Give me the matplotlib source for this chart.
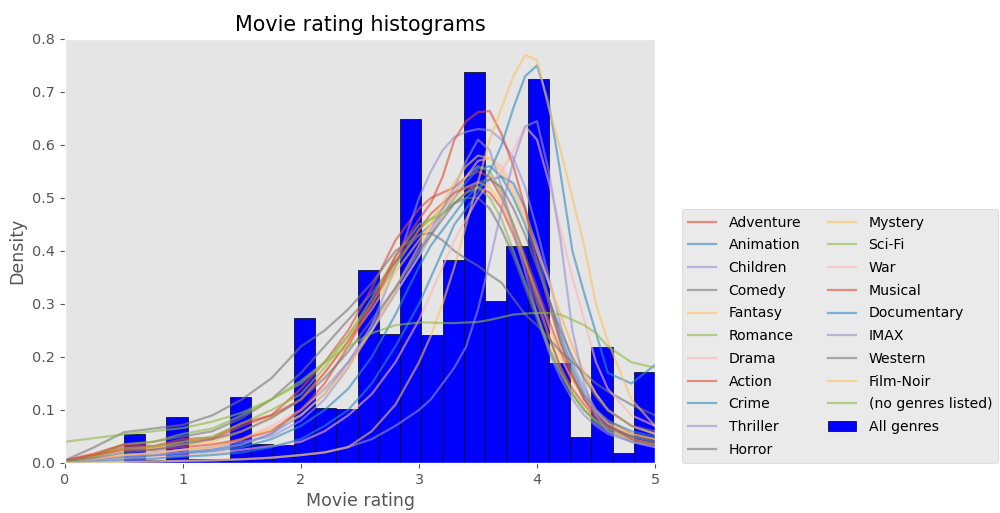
import numpy as np
import matplotlib
matplotlib.use("Agg")
import matplotlib.pyplot as plt

# ---- data ----
bin_edges = np.linspace(0.5, 5.0, 26)
all_genres_density = [0.055, 0.006, 0.087, 0.008, 0.008, 0.125, 0.036, 0.034, 0.273, 0.104,
                      0.102, 0.364, 0.243, 0.649, 0.241, 0.383, 0.738, 0.305, 0.410, 0.725,
                      0.189, 0.049, 0.219, 0.019, 0.172]

kde_x = [0.0, 0.25, 0.5, 0.75, 1.0, 1.25, 1.5, 1.75, 2.0, 2.2, 2.4, 2.6, 2.8, 3.0, 3.1, 3.2,
         3.3, 3.4, 3.5, 3.6, 3.7, 3.8, 3.9, 4.0, 4.1, 4.2, 4.3, 4.4, 4.5, 4.6, 4.8, 5.0]

adventure = [0.004,0.015,0.03,0.03,0.04,0.045,0.07,0.09,0.14,0.19,0.25,0.33,0.42,0.48,0.50,0.51,0.52,0.54,0.55,0.54,0.50,0.45,0.39,0.33,0.27,0.21,0.16,0.125,0.10,0.08,0.055,0.045]
animation = [0.002,0.006,0.012,0.015,0.02,0.025,0.035,0.055,0.10,0.14,0.19,0.25,0.32,0.39,0.43,0.47,0.50,0.53,0.555,0.56,0.54,0.50,0.45,0.38,0.31,0.24,0.18,0.13,0.10,0.08,0.06,0.05]
children = [0.002,0.008,0.015,0.02,0.025,0.03,0.04,0.05,0.08,0.12,0.18,0.26,0.37,0.50,0.55,0.59,0.615,0.625,0.63,0.628,0.61,0.575,0.52,0.44,0.35,0.26,0.19,0.14,0.10,0.075,0.045,0.035]
comedy = [0.004,0.015,0.035,0.04,0.05,0.06,0.085,0.12,0.17,0.22,0.27,0.32,0.38,0.43,0.45,0.47,0.49,0.50,0.50,0.48,0.44,0.39,0.33,0.27,0.215,0.17,0.13,0.10,0.08,0.065,0.05,0.045]
fantasy = [0.003,0.012,0.025,0.028,0.035,0.04,0.06,0.085,0.12,0.17,0.23,0.29,0.36,0.42,0.45,0.48,0.50,0.52,0.53,0.52,0.49,0.44,0.38,0.32,0.26,0.20,0.155,0.12,0.095,0.075,0.055,0.045]
romance = [0.003,0.015,0.035,0.04,0.055,0.065,0.09,0.12,0.15,0.19,0.24,0.30,0.37,0.44,0.46,0.48,0.51,0.54,0.56,0.55,0.51,0.45,0.38,0.31,0.24,0.18,0.13,0.10,0.075,0.06,0.04,0.035]
drama = [0.002,0.008,0.015,0.018,0.025,0.03,0.045,0.07,0.10,0.14,0.19,0.25,0.32,0.39,0.43,0.47,0.51,0.54,0.57,0.575,0.56,0.52,0.47,0.41,0.34,0.28,0.22,0.17,0.13,0.10,0.07,0.055]
action = [0.005,0.018,0.035,0.032,0.045,0.048,0.075,0.09,0.12,0.17,0.23,0.30,0.38,0.44,0.47,0.49,0.51,0.52,0.52,0.51,0.48,0.43,0.37,0.30,0.24,0.18,0.14,0.11,0.085,0.07,0.05,0.04]
crime = [0.002,0.006,0.01,0.014,0.018,0.022,0.03,0.045,0.07,0.10,0.14,0.20,0.28,0.37,0.41,0.44,0.47,0.50,0.52,0.535,0.54,0.528,0.48,0.40,0.31,0.23,0.17,0.12,0.09,0.07,0.05,0.04]
thriller = [0.002,0.006,0.012,0.015,0.02,0.025,0.035,0.055,0.09,0.13,0.19,0.26,0.33,0.40,0.44,0.48,0.52,0.57,0.61,0.59,0.52,0.44,0.36,0.28,0.21,0.16,0.12,0.09,0.07,0.055,0.04,0.03]
horror = [0.005,0.03,0.058,0.065,0.072,0.09,0.12,0.16,0.22,0.25,0.29,0.34,0.40,0.43,0.434,0.42,0.40,0.385,0.372,0.355,0.34,0.31,0.28,0.26,0.235,0.21,0.19,0.17,0.15,0.135,0.11,0.09]
mystery = [0.002,0.008,0.015,0.018,0.025,0.03,0.045,0.065,0.09,0.13,0.18,0.25,0.33,0.41,0.45,0.49,0.53,0.56,0.58,0.575,0.55,0.51,0.46,0.40,0.34,0.28,0.22,0.17,0.13,0.10,0.07,0.055]
scifi = [0.003,0.012,0.028,0.03,0.04,0.05,0.075,0.10,0.13,0.18,0.24,0.31,0.39,0.45,0.46,0.47,0.49,0.51,0.52,0.50,0.46,0.40,0.34,0.28,0.22,0.17,0.13,0.10,0.08,0.065,0.045,0.035]
war = [0.001,0.004,0.008,0.01,0.014,0.018,0.025,0.032,0.04,0.06,0.09,0.13,0.19,0.27,0.32,0.37,0.42,0.46,0.50,0.53,0.55,0.59,0.635,0.61,0.53,0.44,0.35,0.27,0.19,0.14,0.09,0.07]
musical = [0.004,0.015,0.025,0.025,0.03,0.035,0.045,0.06,0.10,0.15,0.22,0.30,0.39,0.46,0.49,0.54,0.61,0.645,0.662,0.664,0.62,0.56,0.48,0.38,0.30,0.225,0.165,0.12,0.09,0.07,0.045,0.035]
documentary = [0.001,0.003,0.006,0.008,0.012,0.015,0.02,0.03,0.045,0.07,0.10,0.15,0.22,0.30,0.35,0.40,0.45,0.48,0.51,0.55,0.60,0.67,0.73,0.75,0.68,0.545,0.40,0.32,0.245,0.17,0.15,0.185]
imax = [0.0005,0.001,0.002,0.003,0.004,0.005,0.007,0.01,0.015,0.02,0.03,0.045,0.07,0.10,0.12,0.15,0.18,0.22,0.29,0.38,0.48,0.57,0.635,0.645,0.55,0.42,0.25,0.15,0.09,0.06,0.04,0.03]
western = [0.003,0.01,0.02,0.025,0.035,0.045,0.06,0.085,0.12,0.16,0.21,0.27,0.33,0.40,0.43,0.46,0.49,0.51,0.53,0.535,0.52,0.48,0.43,0.37,0.31,0.25,0.20,0.16,0.125,0.10,0.07,0.06]
film_noir = [0.0005,0.001,0.002,0.003,0.004,0.005,0.007,0.01,0.015,0.02,0.03,0.06,0.11,0.19,0.24,0.30,0.37,0.45,0.53,0.61,0.67,0.73,0.77,0.76,0.67,0.59,0.50,0.41,0.30,0.23,0.12,0.07]
no_genres = [0.04,0.047,0.054,0.06,0.066,0.078,0.095,0.12,0.155,0.19,0.22,0.245,0.26,0.265,0.265,0.264,0.264,0.265,0.266,0.27,0.275,0.28,0.282,0.283,0.283,0.28,0.27,0.26,0.245,0.22,0.19,0.18]

genre_names = ["Adventure", "Animation", "Children", "Comedy", "Fantasy", "Romance", "Drama",
               "Action", "Crime", "Thriller", "Horror", "Mystery", "Sci-Fi", "War", "Musical",
               "Documentary", "IMAX", "Western", "Film-Noir", "(no genres listed)"]
genre_curves = [adventure, animation, children, comedy, fantasy, romance, drama, action, crime,
                thriller, horror, mystery, scifi, war, musical, documentary, imax, western,
                film_noir, no_genres]

# ---- plot ----
plt.style.use("ggplot")
fig = plt.figure(figsize=(10, 5.13), dpi=100)
ax = fig.add_axes([0.065, 0.0975, 0.59, 0.8265])

bin_centers = (bin_edges[:-1] + bin_edges[1:]) / 2
_, _, bars = ax.hist(bin_centers, bins=bin_edges, weights=all_genres_density,
                     color="blue", edgecolor="black", linewidth=0.5, label="All genres")

handles = []
for name, curve in zip(genre_names, genre_curves):
    ln, = ax.plot(kde_x, curve, alpha=0.6, linewidth=1.6, label=name)
    handles.append(ln)
handles.append(bars[0])

ax.grid(False)
ax.set_xlim(0, 5)
ax.set_ylim(0, 0.8)
ax.set_xticks([0, 1, 2, 3, 4, 5])
ax.set_yticks(np.arange(0, 0.81, 0.1))
ax.tick_params(labelsize=10.4)
ax.set_title("Movie rating histograms", fontsize=14.9)
ax.set_xlabel("Movie rating", fontsize=12.5)
ax.set_ylabel("Density", fontsize=12.5)

ax.legend(handles=handles, labels=genre_names + ["All genres"], ncol=2,
          loc="lower left", bbox_to_anchor=(1.045, 0), borderaxespad=0,
          fontsize=10.1, labelspacing=0.62, handletextpad=0.9, columnspacing=1.9,
          borderpad=0.45)

fig.savefig("out.png", dpi=100)
